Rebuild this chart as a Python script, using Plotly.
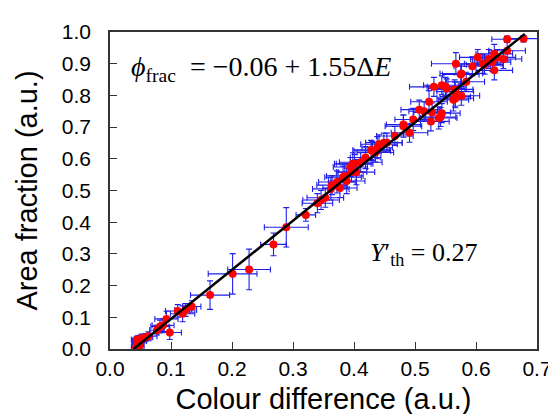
import plotly.graph_objects as go

# Data (colour difference vs area fraction)
colour_diff = [
    0.043, 0.044, 0.045, 0.046, 0.047, 0.049, 0.050, 0.052, 0.055, 0.058, 0.063, 0.048, 0.044, 0.046,
    0.077, 0.082, 0.087, 0.0925, 0.098, 0.111, 0.119, 0.124, 0.134, 0.164, 0.201, 0.228, 0.268, 0.289, 0.321,
    0.340, 0.346, 0.353, 0.362, 0.364, 0.372, 0.377, 0.382, 0.385, 0.388, 0.394, 0.396, 0.398, 0.401, 0.404,
    0.411, 0.419, 0.428, 0.430, 0.435, 0.438, 0.441, 0.449, 0.454, 0.467, 0.481, 0.481, 0.491, 0.497,
    0.507, 0.515, 0.523, 0.526, 0.528, 0.531, 0.539, 0.542, 0.544, 0.544, 0.550, 0.552, 0.563, 0.565,
    0.566, 0.566, 0.566, 0.567, 0.575, 0.576, 0.576, 0.584, 0.594, 0.603, 0.611, 0.614, 0.621, 0.627,
    0.630, 0.630, 0.635, 0.645, 0.651, 0.651, 0.678,
]
area_fraction = [
    0.005, 0.012, 0.018, 0.022, 0.027, 0.030, 0.025, 0.033, 0.035, 0.037, 0.040, 0.010, 0.030, 0.008,
    0.059, 0.071, 0.075, 0.095, 0.052, 0.120, 0.111, 0.123, 0.134, 0.170, 0.237, 0.251, 0.330, 0.384, 0.423,
    0.460, 0.470, 0.477, 0.505, 0.517, 0.527, 0.508, 0.542, 0.546, 0.530, 0.574, 0.558, 0.584, 0.584, 0.558,
    0.589, 0.604, 0.628, 0.625, 0.620, 0.635, 0.646, 0.651, 0.651, 0.672, 0.703, 0.708, 0.682, 0.724,
    0.755, 0.750, 0.780, 0.718, 0.746, 0.827, 0.729, 0.732, 0.744, 0.832, 0.827, 0.822, 0.786, 0.819,
    0.812, 0.796, 0.791, 0.900, 0.866, 0.799, 0.869, 0.843, 0.892, 0.920, 0.900, 0.897, 0.915, 0.905,
    0.931, 0.879, 0.920, 0.915, 0.941, 0.977, 0.979,
]
colour_err = [
    0.008, 0.008, 0.009, 0.008, 0.010, 0.009, 0.010, 0.010, 0.012, 0.012, 0.014, 0.008, 0.009, 0.008,
    0.012, 0.015, 0.018, 0.019, 0.019, 0.020, 0.020, 0.018, 0.015, 0.032, 0.040, 0.035, 0.021, 0.036, 0.016,
    0.025, 0.030, 0.030, 0.030, 0.025, 0.030, 0.028, 0.030, 0.030, 0.030, 0.028, 0.025, 0.030, 0.030, 0.030,
    0.035, 0.025, 0.030, 0.030, 0.030, 0.025, 0.030, 0.030, 0.025, 0.030, 0.030, 0.028, 0.030, 0.030,
    0.030, 0.025, 0.030, 0.030, 0.030, 0.040, 0.030, 0.025, 0.030, 0.030, 0.030, 0.030, 0.025, 0.030,
    0.030, 0.025, 0.030, 0.040, 0.030, 0.030, 0.035, 0.030, 0.030, 0.030, 0.030, 0.030, 0.030, 0.030,
    0.030, 0.030, 0.030, 0.030, 0.030, 0.025, 0.030,
]
area_err = [
    0.008, 0.008, 0.010, 0.010, 0.010, 0.012, 0.010, 0.012, 0.012, 0.012, 0.014, 0.008, 0.010, 0.008,
    0.015, 0.020, 0.020, 0.024, 0.022, 0.020, 0.025, 0.020, 0.018, 0.045, 0.064, 0.064, 0.036, 0.062, 0.020,
    0.030, 0.030, 0.030, 0.035, 0.030, 0.035, 0.030, 0.035, 0.035, 0.040, 0.030, 0.030, 0.035, 0.030, 0.040,
    0.030, 0.035, 0.030, 0.030, 0.030, 0.035, 0.030, 0.030, 0.030, 0.030, 0.035, 0.030, 0.030, 0.035,
    0.030, 0.030, 0.035, 0.030, 0.030, 0.030, 0.035, 0.030, 0.030, 0.030, 0.030, 0.030, 0.035, 0.030,
    0.030, 0.030, 0.030, 0.035, 0.030, 0.030, 0.030, 0.030, 0.030, 0.025, 0.030, 0.030, 0.030, 0.030,
    0.030, 0.030, 0.025, 0.030, 0.030, 0.010, 0.010,
]

# Linear fit stated on the chart: phi = -0.06 + 1.55 dE
fit_intercept = -0.06
fit_slope = 1.55
fit_x = [0.0387, 0.680]
fit_y = [fit_intercept + fit_slope * v for v in fit_x]

x_ticks = [0.0, 0.1, 0.2, 0.3, 0.4, 0.5, 0.6, 0.7]
y_ticks = [0.0, 0.1, 0.2, 0.3, 0.4, 0.5, 0.6, 0.7, 0.8, 0.9, 1.0]

fig = go.Figure()
fig.add_trace(go.Scatter(
    x=colour_diff, y=area_fraction, mode="markers",
    marker=dict(color="#ff0000", size=8, line=dict(width=0)),
    error_x=dict(type="data", array=colour_err, color="#2020e8", thickness=1.1, width=3),
    error_y=dict(type="data", array=area_err, color="#2020e8", thickness=1.1, width=3),
    showlegend=False,
))
fig.add_trace(go.Scatter(
    x=fit_x, y=fit_y, mode="lines",
    line=dict(color="black", width=2.5), showlegend=False,
))

axis_common = dict(
    showgrid=False, zeroline=False, showline=True, linecolor="#333333", linewidth=1.5,
    mirror=True, ticks="inside", ticklen=7, tickwidth=1.2, tickcolor="#333333",
    tickfont=dict(family="Liberation Sans, Arial", size=21, color="black"),
)
fig.update_xaxes(
    range=[0, 0.7], tickvals=x_ticks, ticktext=[f"{v:.1f}" for v in x_ticks],
    title=dict(text="Colour difference (a.u.)", font=dict(family="Liberation Sans, Arial", size=29, color="black"), standoff=10),
    ticklabelstandoff=0, **axis_common,
)
fig.update_yaxes(
    range=[0, 1.0], tickvals=y_ticks, ticktext=[f"{v:.1f}" for v in y_ticks],
    title=dict(text="Area fraction (a.u.)", font=dict(family="Liberation Sans, Arial", size=29, color="black"), standoff=16),
    ticklabelstandoff=13, **axis_common,
)

fig.add_annotation(
    xref="paper", yref="paper", x=0.045, y=0.885, xanchor="left", yanchor="middle",
    text="<i>ϕ</i><sub>frac</sub>  = −0.06 + 1.55Δ<i>E</i>", showarrow=False,
    font=dict(family="Liberation Serif, Times New Roman", size=28, color="black"),
)
fig.add_annotation(
    xref="paper", yref="paper", x=0.604, y=0.30, xanchor="left", yanchor="middle",
    text="<i>Y</i>′<sub>th</sub> = 0.27", showarrow=False,
    font=dict(family="Liberation Serif, Times New Roman", size=26, color="black"),
)

fig.update_layout(
    width=556, height=414,
    margin=dict(l=102, r=15, t=21, b=71),
    plot_bgcolor="white", paper_bgcolor="white",
)
fig.write_html("out.html")
